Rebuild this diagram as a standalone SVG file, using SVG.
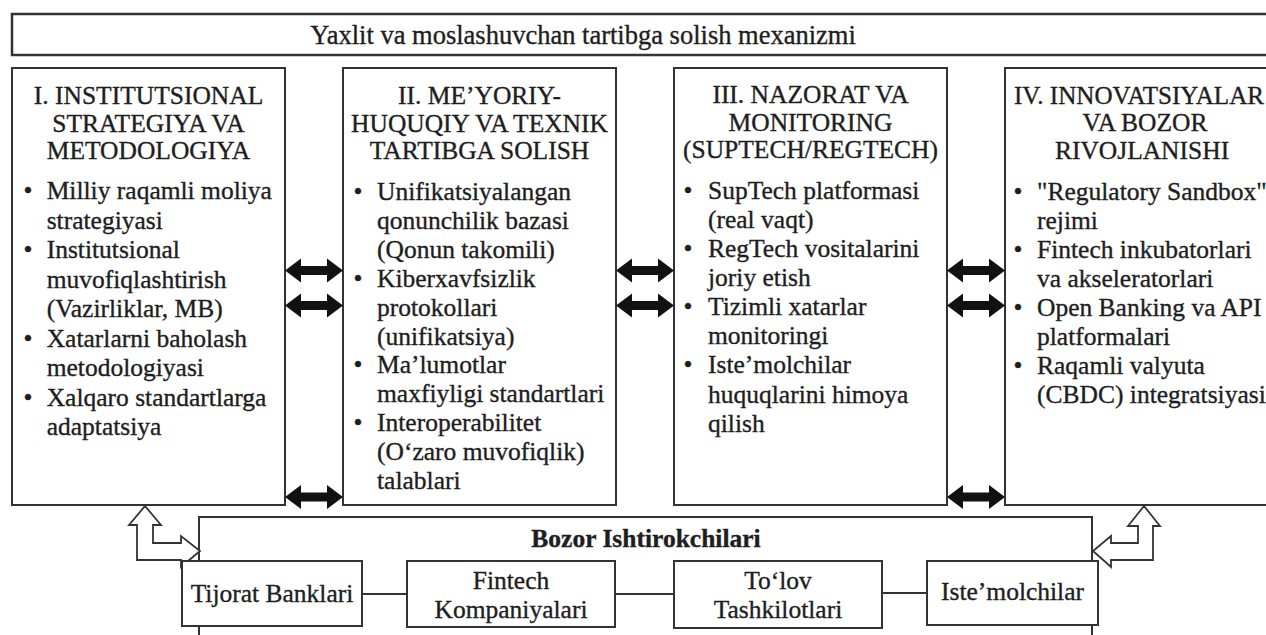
<svg xmlns="http://www.w3.org/2000/svg" xmlns:xlink="http://www.w3.org/1999/xlink" width="1266" height="635" viewBox="0 0 1266 635">
<style>
.box{fill:#fff;stroke:#333;stroke-width:2}
.t{font-family:"Liberation Serif","Times New Roman",serif;font-size:25.5px;fill:#1e1e1e;stroke:#1e1e1e;stroke-width:0.35}
.m{text-anchor:middle}
.bold{font-weight:bold}
.dbl{fill:#111}
.hollow{fill:#fff;stroke:#333;stroke-width:1.8;stroke-linejoin:miter}
.ln{stroke:#333;stroke-width:2;fill:none}
</style>
<defs>
<path id="dblarr" d="M0,0 L16,-12 L16,-4.5 L42,-4.5 L42,-12 L58,0 L42,12 L42,4.5 L16,4.5 L16,12 Z"/>
</defs>
<rect width="1266" height="635" fill="#fff"/>

<g id="banner">
<rect class="box" x="12" y="14" width="1270" height="41" style="stroke-width:2.5"/>
<text class="t m" x="583" y="43.5" style="font-size:26.5px">Yaxlit va moslashuvchan tartibga solish mexanizmi</text>
</g>

<g id="node-I">
<rect class="box" x="12" y="68" width="273" height="437"/>
<text class="t m"><tspan x="148.5" y="104">I. INSTITUTSIONAL</tspan><tspan x="148.5" y="131.5">STRATEGIYA VA</tspan><tspan x="148.5" y="159">METODOLOGIYA</tspan></text>
<text class="t m"><tspan x="28" y="199">•</tspan><tspan x="28" y="258">•</tspan><tspan x="28" y="346.5">•</tspan><tspan x="28" y="405.5">•</tspan></text>
<text class="t"><tspan x="46.7" y="199">Milliy raqamli moliya</tspan><tspan x="46.7" y="228.5">strategiyasi</tspan><tspan x="46.7" y="258">Institutsional</tspan><tspan x="46.7" y="287.5">muvofiqlashtirish</tspan><tspan x="46.7" y="317">(Vazirliklar, MB)</tspan><tspan x="46.7" y="346.5">Xatarlarni baholash</tspan><tspan x="46.7" y="376">metodologiyasi</tspan><tspan x="46.7" y="405.5">Xalqaro standartlarga</tspan><tspan x="46.7" y="435">adaptatsiya</tspan></text>
</g>

<g id="node-II">
<rect class="box" x="343" y="68" width="273" height="437"/>
<text class="t m"><tspan x="479.5" y="104">II. ME’YORIY-</tspan><tspan x="479.5" y="131.5">HUQUQIY VA TEXNIK</tspan><tspan x="479.5" y="159">TARTIBGA SOLISH</tspan></text>
<text class="t m"><tspan x="358" y="200">•</tspan><tspan x="358" y="286.7">•</tspan><tspan x="358" y="373.4">•</tspan><tspan x="358" y="431.2">•</tspan></text>
<text class="t"><tspan x="377" y="200">Unifikatsiyalangan</tspan><tspan x="377" y="228.9">qonunchilik bazasi</tspan><tspan x="377" y="257.8">(Qonun takomili)</tspan><tspan x="377" y="286.7">Kiberxavfsizlik</tspan><tspan x="377" y="315.6">protokollari</tspan><tspan x="377" y="344.5">(unifikatsiya)</tspan><tspan x="377" y="373.4">Ma’lumotlar</tspan><tspan x="377" y="402.3">maxfiyligi standartlari</tspan><tspan x="377" y="431.2">Interoperabilitet</tspan><tspan x="377" y="460.1">(O‘zaro muvofiqlik)</tspan><tspan x="377" y="489">talablari</tspan></text>
</g>

<g id="node-III">
<rect class="box" x="674" y="68" width="273" height="437"/>
<text class="t m"><tspan x="810.5" y="103">III. NAZORAT VA</tspan><tspan x="810.5" y="130.5">MONITORING</tspan><tspan x="810.5" y="158">(SUPTECH/REGTECH)</tspan></text>
<text class="t m"><tspan x="688" y="198.5">•</tspan><tspan x="688" y="256.8">•</tspan><tspan x="688" y="315.1">•</tspan><tspan x="688" y="373.4">•</tspan></text>
<text class="t"><tspan x="708" y="198.5">SupTech platformasi</tspan><tspan x="708" y="227.6">(real vaqt)</tspan><tspan x="708" y="256.8">RegTech vositalarini</tspan><tspan x="708" y="285.9">joriy etish</tspan><tspan x="708" y="315.1">Tizimli xatarlar</tspan><tspan x="708" y="344.2">monitoringi</tspan><tspan x="708" y="373.4">Iste’molchilar</tspan><tspan x="708" y="402.5">huquqlarini himoya</tspan><tspan x="708" y="431.7">qilish</tspan></text>
</g>

<g id="node-IV">
<rect class="box" x="1005" y="68" width="273" height="437"/>
<text class="t" x="1014" y="103.5" textLength="250" lengthAdjust="spacingAndGlyphs">IV. INNOVATSIYALAR</text>
<text class="t m"><tspan x="1145" y="131">VA BOZOR</tspan><tspan x="1142" y="158.5">RIVOJLANISHI</tspan></text>
<text class="t m"><tspan x="1018" y="200">•</tspan><tspan x="1018" y="258">•</tspan><tspan x="1018" y="316">•</tspan><tspan x="1018" y="374">•</tspan></text>
<text class="t"><tspan x="1037" y="200">"Regulatory Sandbox"</tspan><tspan x="1037" y="229">rejimi</tspan><tspan x="1037" y="258">Fintech inkubatorlari</tspan><tspan x="1037" y="287">va akseleratorlari</tspan><tspan x="1037" y="316">Open Banking va API</tspan><tspan x="1037" y="345">platformalari</tspan><tspan x="1037" y="374">Raqamli valyuta</tspan><tspan x="1037" y="403">(CBDC) integratsiyasi</tspan></text>
</g>

<g id="market">
<rect class="box" x="199" y="517" width="893" height="140"/>
<text class="t m bold" x="646" y="546.5">Bozor Ishtirokchilari</text>
</g>

<g id="connectors">
<use xlink:href="#dblarr" href="#dblarr" class="dbl" transform="translate(285,270.5)"/>
<use xlink:href="#dblarr" href="#dblarr" class="dbl" transform="translate(285,305.5)"/>
<use xlink:href="#dblarr" href="#dblarr" class="dbl" transform="translate(285,497)"/>
<use xlink:href="#dblarr" href="#dblarr" class="dbl" transform="translate(616,270.5)"/>
<use xlink:href="#dblarr" href="#dblarr" class="dbl" transform="translate(616,305.5)"/>
<use xlink:href="#dblarr" href="#dblarr" class="dbl" transform="translate(947,270.5)"/>
<use xlink:href="#dblarr" href="#dblarr" class="dbl" transform="translate(947,305.5)"/>
<use xlink:href="#dblarr" href="#dblarr" class="dbl" transform="translate(947,497)"/>
<path class="hollow" d="M145,506 L161,525 L153,525 L153,543 L181,543 L181,536 L200,551 L181,567 L181,560 L137,560 L137,525 L129,525 Z"/>
<path class="hollow" d="M1144,506 L1160,526 L1153,526 L1153,560 L1111,560 L1111,567 L1093,551 L1111,536 L1111,543 L1138,543 L1138,526 L1128,526 Z"/>
<line class="ln" x1="362" y1="594" x2="407" y2="594"/>
<line class="ln" x1="615" y1="594" x2="674" y2="594"/>
<line class="ln" x1="882" y1="593" x2="927" y2="593"/>
</g>

<g id="node-tijorat">
<rect class="box" x="182" y="561" width="180" height="65"/>
<text class="t m" x="272" y="601.5">Tijorat Banklari</text>
</g>
<g id="node-fintech">
<rect class="box" x="407" y="561" width="208" height="66"/>
<text class="t m"><tspan x="511" y="589">Fintech</tspan><tspan x="511" y="618">Kompaniyalari</tspan></text>
</g>
<g id="node-tolov">
<rect class="box" x="674" y="561" width="208" height="67"/>
<text class="t m"><tspan x="778" y="589">To‘lov</tspan><tspan x="778" y="618">Tashkilotlari</tspan></text>
</g>
<g id="node-istemolchilar">
<rect class="box" x="927" y="561" width="171" height="64"/>
<text class="t m" x="1012.5" y="600">Iste’molchilar</text>
</g>
</svg>
